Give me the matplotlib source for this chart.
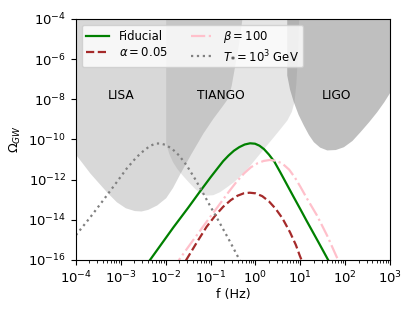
import matplotlib
matplotlib.use('Agg')
import matplotlib.pyplot as plt
import matplotlib.ticker as mticker
import numpy as np

# detector sensitivity curves, log10(f) and log10(Omega)
lisa_logf = [-4.0, -3.85, -3.69, -3.5, -3.3, -3.1, -2.9, -2.7, -2.55, -2.4, -2.2, -2.0, -1.85,
             -1.68, -1.45, -1.17, -0.95, -0.75, -0.62, -0.54, -0.46, -0.38, -0.31, -0.27]
lisa_logo = [-10.77, -11.2, -11.67, -12.15, -12.65, -13.1, -13.4, -13.54, -13.56, -13.48, -13.26, -12.9, -12.4,
             -11.68, -10.75, -9.68, -8.95, -8.35, -7.95, -7.3, -6.29, -5.3, -4.13, -3.3]

tiango_logf = [-2.0, -1.93, -1.85, -1.75, -1.64, -1.5, -1.35, -1.2, -1.1, -0.95, -0.8, -0.64, -0.5,
               -0.34, -0.15, 0.03, 0.2, 0.40, 0.55, 0.70, 0.80, 0.86, 0.90, 0.93, 0.95, 0.97]
tiango_logo = [-10.18, -10.7, -11.1, -11.45, -11.75, -12.1, -12.45, -12.7, -12.77, -12.75, -12.6, -12.35, -12.12,
               -11.8, -11.35, -10.86, -10.4, -9.86, -9.45, -9.03, -8.6, -8.1, -7.2, -6.0, -4.8, -3.5]

ligo_logf = [0.697, 0.76, 0.844, 0.95, 1.067, 1.18, 1.29, 1.43, 1.589, 1.78, 1.96, 2.15, 2.33, 2.52, 2.70, 2.86, 3.0]
ligo_logo = [-6.79, -7.5, -8.12, -8.75, -9.28, -9.75, -10.11, -10.38, -10.52, -10.5, -10.36, -10.05, -9.61,
             -9.12, -8.62, -8.12, -7.62]

# signal spectra
fid_logf = [-2.45, -2.35, -1.83, -1.50, -1.24, -1.00, -0.85, -0.72, -0.60, -0.48, -0.36, -0.24, -0.12, -0.01,
            0.09, 0.19, 0.30, 0.42, 0.55, 0.70, 0.85, 1.00, 1.14, 1.40, 1.62, 1.70]
fid_logo = [-16.3, -16.0, -14.38, -13.4, -12.6, -11.88, -11.45, -11.08, -10.8, -10.56, -10.38, -10.25, -10.19, -10.21,
            -10.31, -10.48, -10.75, -11.1, -11.62, -12.24, -12.86, -13.47, -14.05, -15.1, -16.0, -16.3]

alpha_logf = [-1.70, -1.53, -1.30, -1.09, -0.90, -0.72, -0.55, -0.40, -0.26, -0.13, 0.00, 0.15, 0.30,
              0.45, 0.60, 0.77, 0.90, 0.99, 1.10]
alpha_logo = [-16.5, -15.95, -15.1, -14.35, -13.8, -13.35, -13.02, -12.80, -12.68, -12.65, -12.68, -12.82, -13.08,
              -13.45, -13.92, -14.62, -15.25, -15.8, -16.4]

beta_logf = [-1.85, -1.68, -1.40, -1.09, -0.85, -0.60, -0.42, -0.25, -0.10, 0.05, 0.18, 0.32, 0.46, 0.60,
             0.75, 0.88, 1.00, 1.15, 1.37, 1.60, 1.81, 1.90]
beta_logo = [-16.5, -15.92, -15.05, -14.1, -13.38, -12.62, -12.1, -11.68, -11.38, -11.18, -11.07, -11.02, -11.06, -11.2,
             -11.5, -11.9, -12.35, -12.95, -13.78, -14.8, -15.85, -16.2]

tstar_logf = [-4.0, -3.69, -3.40, -3.10, -2.87, -2.65, -2.50, -2.35, -2.22, -2.12, -2.00, -1.85, -1.70,
              -1.53, -1.35, -1.16, -1.00, -0.86, -0.60, -0.40, -0.33]
tstar_logo = [-14.76, -13.9, -13.05, -12.15, -11.45, -10.88, -10.58, -10.32, -10.2, -10.2, -10.27, -10.48, -10.8,
              -11.3, -11.95, -12.7, -13.35, -13.9, -14.95, -15.8, -16.1]

def pw(v):
    return 10.0 ** np.array(v)

fig = plt.figure(figsize=(4.15, 3.11), dpi=100)
ax = fig.add_axes([0.183, 0.164, 0.757, 0.775])

ax.fill_between(pw(lisa_logf), pw(lisa_logo), 1e-2, color='gray', alpha=0.3, lw=0)
ax.fill_between(pw(tiango_logf), pw(tiango_logo), 1e-2, color='gray', alpha=0.2, lw=0)
ax.fill_between(pw(ligo_logf), pw(ligo_logo), 1e-2, color='gray', alpha=0.5, lw=0)

ax.plot(pw(fid_logf), pw(fid_logo), color='green', lw=1.6, label='Fiducial')
ax.plot(pw(alpha_logf), pw(alpha_logo), color='brown', lw=1.6, ls='--', label=r'$\alpha=0.05$')
ax.plot(pw(beta_logf), pw(beta_logo), color='pink', lw=1.6, ls='-.', label=r'$\beta=100$')
ax.plot(pw(tstar_logf), pw(tstar_logo), color='gray', lw=1.6, ls=':', label=r'$T_{*}=10^3$ GeV')

ax.text(5e-4, 1e-8, 'LISA', fontsize=8.8)
ax.text(5e-2, 1e-8, 'TIANGO', fontsize=8.8)
ax.text(30, 1e-8, 'LIGO', fontsize=8.8)

ax.set_xscale('log')
ax.set_yscale('log')
ax.set_xlim(1e-4, 1e3)
ax.set_ylim(1e-16, 1e-4)
ax.set_yticks([1e-16, 1e-14, 1e-12, 1e-10, 1e-8, 1e-6, 1e-4])
ax.yaxis.set_minor_locator(mticker.NullLocator())
ax.xaxis.set_major_locator(mticker.LogLocator(base=10, numticks=20))
ax.xaxis.set_minor_locator(mticker.LogLocator(base=10, subs=np.arange(2, 10), numticks=20))
ax.tick_params(labelsize=9.5)

ax.set_xlabel('f (Hz)', fontsize=9.2, labelpad=1)
ax.set_ylabel(r'$\Omega_{GW}$', fontsize=9.2)

ax.legend(loc='upper left', ncol=2, fontsize=8.4, labelspacing=0.3, borderpad=0.35)

fig.savefig('out.png', dpi=100)
